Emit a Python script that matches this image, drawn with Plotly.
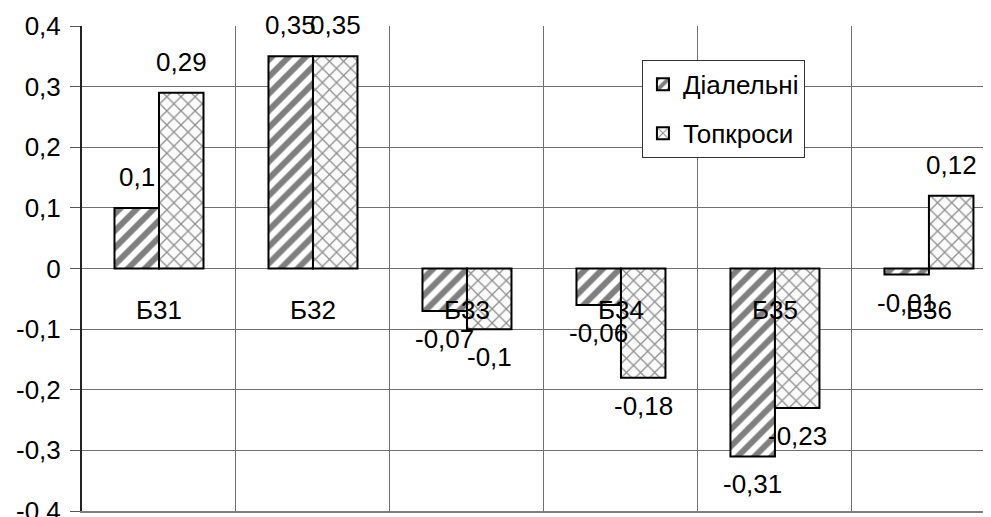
import plotly.graph_objects as go

categories = ["Б31", "Б32", "Б33", "Б34", "Б35", "Б36"]
series_names = ["Діалельні", "Топкроси"]
dialelni = [0.10, 0.35, -0.07, -0.06, -0.31, -0.01]
topkrosy = [0.29, 0.35, -0.10, -0.18, -0.23, 0.12]
y_tick_vals = [-0.4, -0.3, -0.2, -0.1, 0, 0.1, 0.2, 0.3, 0.4]
y_tick_text = ["-0,4", "-0,3", "-0,2", "-0,1", "0", "0,1", "0,2", "0,3", "0,4"]

FONT = "Liberation Sans, Arial, sans-serif"
FS = 26
BARGAP = 0.422
bar_w = (1 - BARGAP) / 2


def fmt(v):
    return f"{v:g}".replace(".", ",")


styles = [
    dict(shape="/", fgcolor="black", size=12, solidity=0.5, fillmode="overlay"),
    dict(shape="x", fgcolor="#222222", size=10, solidity=0.24, fillmode="overlay"),
]
bgcols = ["white", "#fafafa"]

fig = go.Figure()
for s, (name, vals) in enumerate(zip(series_names, [dialelni, topkrosy])):
    fig.add_trace(go.Bar(
        x=categories, y=vals, name=name, legendgroup=name,
        marker=dict(color=bgcols[s], line=dict(color="black", width=2),
                    pattern=styles[s]),
    ))

annotations = []
for s, vals in enumerate([dialelni, topkrosy]):
    for i, v in enumerate(vals):
        annotations.append(dict(
            x=i + (s - 0.5) * bar_w, y=v, xref="x", yref="y",
            text=fmt(v), showarrow=False,
            yshift=31 if v >= 0 else -28, yanchor="middle",
            font=dict(family=FONT, size=FS, color="black"),
        ))
for i, c in enumerate(categories):
    annotations.append(dict(
        x=i, y=0, xref="x", yref="y", text=c, showarrow=False,
        yshift=-41, yanchor="middle",
        font=dict(family=FONT, size=FS, color="black"),
    ))

# page body has an 8px margin: figure spans window x 8..991, y 8..517
fig.update_layout(
    width=983, height=509,
    margin=dict(l=74, r=0, t=18, b=6, autoexpand=False),
    paper_bgcolor="white", plot_bgcolor="white",
    barmode="group", bargap=BARGAP, bargroupgap=0,
    font=dict(family=FONT, size=FS, color="black"),
    showlegend=True,
    legend=dict(x=0.616, y=0.93, xanchor="left", yanchor="top",
                bgcolor="white", bordercolor="#333333", borderwidth=1,
                font=dict(family=FONT, size=FS, color="black"),
                traceorder="grouped", tracegroupgap=12,
                itemwidth=30),
    annotations=annotations,
)
fig.update_xaxes(
    type="category", range=[-0.5, 5.403], showticklabels=False,
    tickson="boundaries", ticks="", showgrid=True, gridcolor="#707070",
    gridwidth=1, showline=True, linecolor="#808080", linewidth=2,
    zeroline=False, automargin=False,
)
fig.update_yaxes(
    range=[-0.4, 0.4], tickvals=y_tick_vals, ticktext=y_tick_text,
    ticks="outside", ticklen=10, tickcolor="#555555", ticklabelstandoff=4,
    ticklabeloverflow="allow", automargin=False,
    showgrid=True, gridcolor="#707070", gridwidth=1,
    showline=True, linecolor="#222222", linewidth=2,
    zeroline=False, tickfont=dict(family=FONT, size=FS, color="black"),
)

fig.write_html("out.html")
